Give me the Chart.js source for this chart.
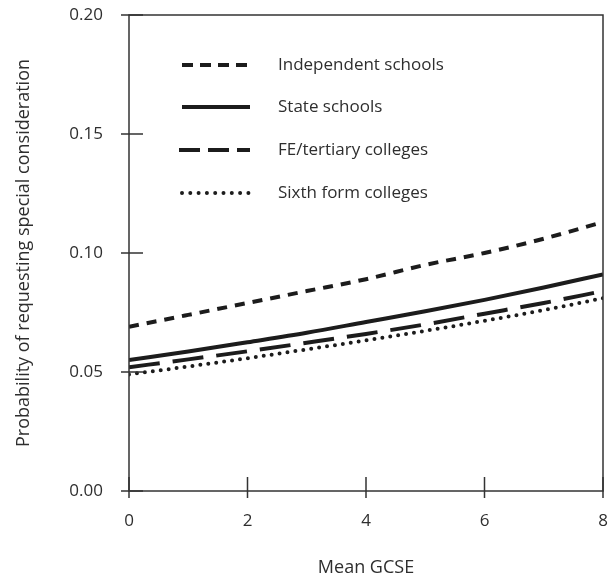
<!DOCTYPE html>
<html>
<head>
<meta charset="utf-8">
<script src="https://cdn.jsdelivr.net/npm/chart.js@4"></script>
<style>
  html, body { margin: 0; padding: 0; background: #fff; }
  #wrap { width: 612px; height: 580px; }
</style>
</head>
<body>
<div id="wrap"><canvas id="chart" width="612" height="580"></canvas></div>
<script>
// values
const gcse = [0, 1, 2, 3, 4, 5, 6, 7, 8];
const independent = [0.069, 0.074, 0.079, 0.084, 0.089, 0.095, 0.100, 0.106, 0.113];
const state = [0.055, 0.0586, 0.0625, 0.0665, 0.071, 0.0755, 0.0803, 0.0855, 0.091];
const fe = [0.052, 0.0553, 0.0587, 0.0623, 0.066, 0.070, 0.0745, 0.079, 0.084];
const sixth = [0.049, 0.0523, 0.0558, 0.0595, 0.0633, 0.0673, 0.0715, 0.076, 0.081];
const seriesNames = ["Independent schools", "State schools", "FE/tertiary colleges", "Sixth form colleges"];
const xTicks = [0, 2, 4, 6, 8];
const yTicks = [0, 0.05, 0.1, 0.15, 0.2];

const ink = "#1c1c1c";
const textCol = "#2e2e2e";
const fontFamily = "'Open Sans', 'Noto Sans', sans-serif";

function pts(values) {
  return gcse.map((g, i) => ({ x: g, y: values[i] }));
}

//Line styles, also used by the legend drawing
const styles = [
  { dash: [10, 8], cap: "butt", width: 4, legendDash: [11, 7] },
  { dash: [], cap: "butt", width: 4, legendDash: [] },
  { dash: [31, 13], cap: "butt", width: 4, legendDash: [21, 8] },
  { dash: [0, 8], cap: "round", width: 4, legendDash: [0, 8.3] },
];

const datasets = [independent, state, fe, sixth].map((vals, i) => ({
  label: seriesNames[i],
  data: pts(vals),
  borderColor: ink,
  borderWidth: styles[i].width,
  borderDash: styles[i].dash,
  borderCapStyle: styles[i].cap,
  pointRadius: 0,
  fill: false,
  cubicInterpolationMode: "monotone",
}));

//Frame, crossing tick marks and the legend inside the plot
const framePlugin = {
  id: "frame",
  afterDraw(chart) {
    const { ctx, chartArea: a, scales } = chart;
    ctx.save();
    ctx.strokeStyle = "#333";
    ctx.lineWidth = 1.5;
    ctx.setLineDash([]);
    ctx.strokeRect(a.left, a.top, a.right - a.left, a.bottom - a.top);

    ctx.beginPath();
    xTicks.forEach((v) => {
      const px = scales.x.getPixelForValue(v);
      ctx.moveTo(px, a.bottom + 7);
      ctx.lineTo(px, a.bottom - 14);
    });
    yTicks.forEach((v) => {
      const py = scales.y.getPixelForValue(v);
      ctx.moveTo(a.left - 8, py);
      ctx.lineTo(a.left + 14, py);
    });
    ctx.stroke();

    // legend
    const rowY = [65, 107, 150, 193];
    ctx.font = "17px " + fontFamily;
    ctx.fillStyle = textCol;
    ctx.textBaseline = "middle";
    seriesNames.forEach((name, i) => {
      const st = styles[i];
      ctx.strokeStyle = ink;
      ctx.lineWidth = st.width;
      ctx.lineCap = st.cap;
      ctx.setLineDash(st.legendDash);
      ctx.beginPath();
      ctx.moveTo(i === 2 ? 179 : 182, rowY[i]);
      ctx.lineTo(250, rowY[i]);
      ctx.stroke();
      ctx.fillText(name, 278, rowY[i]);
    });
    ctx.restore();
  },
};

// invisible tick marks give the label gap without growing the chart padding
const hiddenTicks = (len) => ({
  display: true,
  drawOnChartArea: false,
  drawTicks: true,
  tickLength: len,
  tickColor: "rgba(0,0,0,0)",
});

new Chart(document.getElementById("chart"), {
  type: "line",
  data: { datasets: datasets },
  options: {
    responsive: false,
    animation: false,
    layout: { padding: { top: 15, right: 9, left: 0, bottom: 0 } },
    plugins: { legend: { display: false }, tooltip: { enabled: false } },
    scales: {
      x: {
        type: "linear",
        min: 0,
        max: 8,
        afterBuildTicks: (s) => { s.ticks = xTicks.map((v) => ({ value: v })); },
        afterFit: (s) => { s.height = 89; },
        grid: hiddenTicks(19),
        border: { display: false },
        ticks: {
          padding: 1,
          color: textCol,
          font: { family: fontFamily, size: 17 },
          maxRotation: 0,
        },
        title: {
          display: true,
          text: "Mean GCSE",
          color: textCol,
          font: { family: fontFamily, size: 18 },
          padding: { top: 0, bottom: 1 },
        },
      },
      y: {
        min: 0,
        max: 0.2,
        afterBuildTicks: (s) => { s.ticks = yTicks.map((v) => ({ value: v })); },
        afterFit: (s) => { s.width = 129; },
        grid: hiddenTicks(24),
        border: { display: false },
        ticks: {
          padding: 2,
          color: textCol,
          font: { family: fontFamily, size: 17 },
          callback: (v) => Number(v).toFixed(2),
        },
        title: {
          display: true,
          text: "Probability of requesting special consideration",
          color: textCol,
          font: { family: fontFamily, size: 18 },
          padding: { top: 13, bottom: 0 },
        },
      },
    },
  },
  plugins: [framePlugin],
});
</script>
</body>
</html>
